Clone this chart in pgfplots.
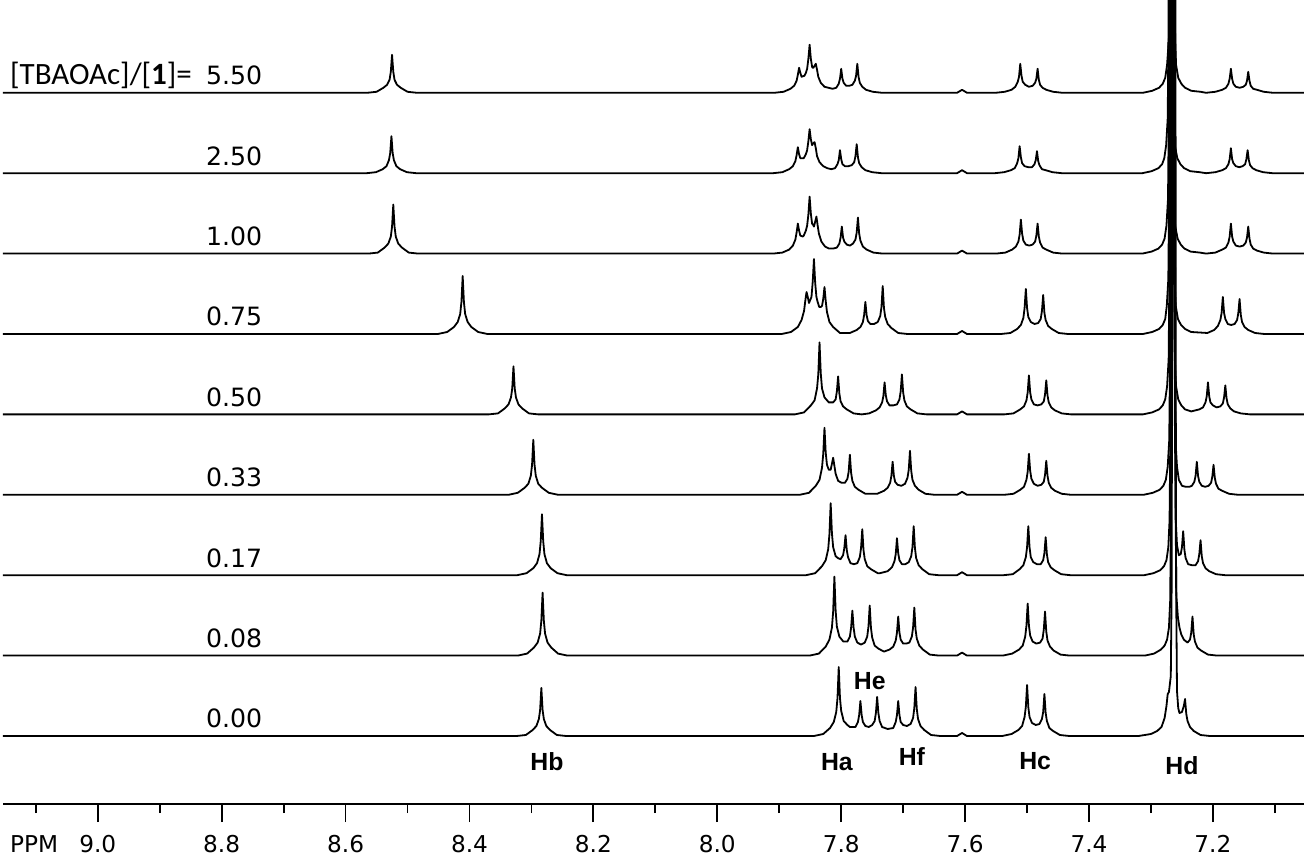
\documentclass[border=0pt]{standalone}
\usepackage{fontspec}
\setmainfont{DejaVu Sans}
\newfontfamily\calibfont{Carlito}
\newfontfamily\arialfont{Liberation Sans}
\usepackage{pgfplots}
\pgfplotsset{compat=1.18}

% one stacked 1H NMR trace; heights in px above its own baseline
\pgfplotsset{
  spec/.style={black, line width=0.9pt, line join=round, mark=none},
  table/trace/.style={header=false, x index=0, y expr=\thisrowno{1}+#1},
}

\begin{document}
\begin{tikzpicture}
\begin{axis}[
  scale only axis,
  width=650.5pt, height=402pt,
  x dir=reverse,
  xmin=7.053, xmax=9.153,
  ymin=-68, ymax=736,
  enlargelimits=false,
  axis x line*=bottom,
  axis y line=none,
  xtick={7.2,7.4,7.6,7.8,8.0,8.2,8.4,8.6,8.8,9.0},
  minor xtick={7.1,7.3,7.5,7.7,7.9,8.1,8.3,8.5,8.7,8.9,9.1},
  tick align=outside,
  major tick length=9pt,
  minor tick length=4.5pt,
  every tick/.style={black, line width=0.9pt},
  axis line style={black, line width=0.9pt},
  xticklabel style={font=\fontsize{11.6}{13}\selectfont, anchor=base, yshift=-15pt,
    /pgf/number format/.cd, fixed, fixed zerofill, precision=1, assume math mode=true},
]

% 0.00
\addplot[spec] table[trace=0] {
9.160 0
8.324 0
8.309 1
8.298 6
8.292 10
8.288 17
8.286 26
8.284 48
8.282 26
8.280 17
8.276 10
8.270 6
8.259 1
8.244 0
7.844 0
7.829 2
7.818 8
7.812 14
7.808 24
7.806 38
7.804 69
7.802 38
7.800 25
7.796 15
7.790 11
7.786 9
7.777 9
7.773 14
7.771 21
7.769 35
7.767 21
7.765 14
7.761 10
7.7555 9
7.750 11
7.746 15
7.744 23
7.742 39
7.740 23
7.738 15
7.734 9
7.725 7
7.716 8
7.712 14
7.710 21
7.708 35
7.706 21
7.704 14
7.700 11
7.694 10
7.688 12
7.684 18
7.682 28
7.680 49
7.678 27
7.676 17
7.672 10
7.666 6
7.655 1
7.640 0
7.613 0
7.605 3
7.597 0
7.540 0
7.525 2
7.514 6
7.508 10
7.504 19
7.502 29
7.500 51
7.498 29
7.496 19
7.492 13
7.486 11
7.480 12
7.476 17
7.474 24
7.472 42
7.470 23
7.468 15
7.464 8
7.458 5
7.447 1
7.432 0
7.320 0
7.300 2
7.290 5
7.283 9
7.278 18
7.275 30
7.273 42
7.271 44
7.2680 60
7.2666 150
7.2659 400
7.2655 900
7.2605 900
7.2601 400
7.2594 150
7.2580 45
7.256 28
7.254 23
7.250 24
7.247 30
7.245 37
7.243 22
7.241 15
7.237 9
7.231 5
7.220 1
7.205 0
7.050 0
};

% 0.08
\addplot[spec] table[trace=80.4] {
9.160 0
8.322 0
8.307 2
8.296 8
8.290 13
8.286 22
8.284 35
8.282 63
8.280 35
8.278 22
8.274 13
8.268 8
8.257 2
8.242 0
7.851 0
7.836 2
7.825 9
7.819 16
7.815 28
7.813 44
7.811 79
7.809 45
7.807 29
7.803 19
7.7965 14
7.790 14
7.786 19
7.784 28
7.782 45
7.780 28
7.778 19
7.774 13
7.768 11
7.762 13
7.758 19
7.756 29
7.754 50
7.752 28
7.750 18
7.746 10
7.740 7
7.731 4
7.722 6
7.716 9
7.712 15
7.710 23
7.708 39
7.706 23
7.704 16
7.700 12
7.695 12
7.690 13
7.686 19
7.684 28
7.682 48
7.680 26
7.678 17
7.674 10
7.668 6
7.657 1
7.642 0
7.613 0
7.605 3
7.597 0
7.539 0
7.524 2
7.513 6
7.507 10
7.503 19
7.501 30
7.499 52
7.497 30
7.495 20
7.491 14
7.485 12
7.479 13
7.475 17
7.473 26
7.471 44
7.469 24
7.467 15
7.463 9
7.457 5
7.446 1
7.431 0
7.310 0
7.295 2
7.284 6
7.278 10
7.274 16
7.271 28
7.2690 55
7.2676 150
7.2669 400
7.2665 900
7.2615 900
7.2611 400
7.2604 150
7.2590 60
7.2565 38
7.254 28
7.251 21
7.247 16
7.241 13
7.237 16
7.235 23
7.233 39
7.231 21
7.229 14
7.225 8
7.219 5
7.208 1
7.193 0
7.050 0
};

% 0.17
\addplot[spec] table[trace=160.8] {
9.160 0
8.323 0
8.308 2
8.297 7
8.291 12
8.287 21
8.285 34
8.283 61
8.281 34
8.279 21
8.275 12
8.269 7
8.258 2
8.243 0
7.857 0
7.842 2
7.831 9
7.825 15
7.821 26
7.819 41
7.817 72
7.815 42
7.813 28
7.809 19
7.805 17
7.801 16
7.797 20
7.795 27
7.793 40
7.791 25
7.789 18
7.785 12
7.7795 11
7.774 12
7.770 18
7.768 27
7.766 46
7.764 25
7.762 16
7.758 9
7.752 6
7.741 2
7.7375 2
7.725 4
7.718 8
7.714 14
7.712 21
7.710 37
7.708 22
7.706 15
7.702 11
7.6965 11
7.691 13
7.687 19
7.685 28
7.683 49
7.681 27
7.679 17
7.675 10
7.669 6
7.658 1
7.643 0
7.613 0
7.605 3
7.597 0
7.538 0
7.523 1
7.512 6
7.506 10
7.502 18
7.500 28
7.498 49
7.496 28
7.494 18
7.490 13
7.484 11
7.478 11
7.474 15
7.472 22
7.470 38
7.468 21
7.466 13
7.462 8
7.456 5
7.445 1
7.430 0
7.311 0
7.296 2
7.285 5
7.279 9
7.275 15
7.272 28
7.2700 55
7.2686 150
7.2679 400
7.2675 900
7.2625 900
7.2621 400
7.2614 150
7.2600 55
7.258 30
7.255 20
7.252 21
7.250 28
7.248 44
7.246 25
7.244 17
7.240 11
7.234 10
7.228 10
7.224 14
7.222 21
7.220 35
7.218 19
7.216 12
7.212 7
7.206 4
7.195 1
7.180 0
7.050 0
};

% 0.33
\addplot[spec] table[trace=241.2] {
9.160 0
8.337 0
8.322 2
8.311 7
8.305 11
8.301 19
8.299 30
8.297 55
8.295 30
8.293 19
8.289 11
8.283 7
8.272 2
8.257 0
7.867 0
7.852 2
7.841 9
7.835 15
7.831 27
7.829 41
7.827 67
7.825 42
7.823 30
7.820 25
7.817 25
7.815 31
7.813 37
7.811 29
7.809 21
7.805 14
7.7995 12
7.794 12
7.790 16
7.788 23
7.786 40
7.784 22
7.782 14
7.778 8
7.772 5
7.761 1
7.751 1
7.742 1
7.731 4
7.725 7
7.721 12
7.719 19
7.717 33
7.715 19
7.713 13
7.709 10
7.703 9
7.697 11
7.693 17
7.691 25
7.689 44
7.687 24
7.685 15
7.681 9
7.675 5
7.664 1
7.649 0
7.613 0
7.605 3
7.597 0
7.537 0
7.522 1
7.511 5
7.505 8
7.501 15
7.499 23
7.497 41
7.495 24
7.493 16
7.489 11
7.483 9
7.477 10
7.473 13
7.471 20
7.469 34
7.467 19
7.465 12
7.461 7
7.455 4
7.444 1
7.429 0
7.312 0
7.297 2
7.286 5
7.280 9
7.276 15
7.273 28
7.2705 55
7.2691 150
7.2684 400
7.2680 900
7.2630 900
7.2626 400
7.2619 150
7.2605 55
7.258 28
7.255 15
7.250 9
7.244 8
7.238 8
7.234 9
7.230 13
7.228 19
7.226 33
7.224 19
7.222 13
7.218 9
7.2125 8
7.207 9
7.203 12
7.201 18
7.199 30
7.197 17
7.195 11
7.191 6
7.185 4
7.174 1
7.159 0
7.050 0
};

% 0.50
\addplot[spec] table[trace=321.6] {
9.160 0
8.369 0
8.354 1
8.343 6
8.337 10
8.333 17
8.331 26
8.329 48
8.327 26
8.325 17
8.321 10
8.315 6
8.304 1
8.289 0
7.875 0
7.860 2
7.849 9
7.843 14
7.839 26
7.837 40
7.835 72
7.833 41
7.831 26
7.827 17
7.820 12
7.813 12
7.809 15
7.807 23
7.805 38
7.803 21
7.801 13
7.797 8
7.791 5
7.780 1
7.767 0
7.755 1
7.744 4
7.738 7
7.734 12
7.732 18
7.730 32
7.728 19
7.726 13
7.722 9
7.716 9
7.710 10
7.706 15
7.704 23
7.702 40
7.700 22
7.698 14
7.694 8
7.688 5
7.677 1
7.662 0
7.613 0
7.605 3
7.597 0
7.537 0
7.522 1
7.511 5
7.505 8
7.501 14
7.499 22
7.497 39
7.495 22
7.493 15
7.489 10
7.483 9
7.477 10
7.473 13
7.471 20
7.469 34
7.467 19
7.465 12
7.461 7
7.455 4
7.444 1
7.429 0
7.313 0
7.298 2
7.287 5
7.281 9
7.277 15
7.274 28
7.2715 55
7.2701 150
7.2694 400
7.2690 900
7.2640 900
7.2636 400
7.2629 150
7.2615 55
7.2595 28
7.256 15
7.251 9
7.245 5
7.235 3
7.222 5
7.216 7
7.212 12
7.210 18
7.208 32
7.206 18
7.204 12
7.200 9
7.194 7
7.188 8
7.184 11
7.182 17
7.180 29
7.178 16
7.176 10
7.172 6
7.166 3
7.155 1
7.140 0
7.050 0
};

% 0.75
\addplot[spec] table[trace=402] {
9.160 0
8.451 0
8.436 2
8.425 7
8.419 12
8.415 20
8.413 32
8.411 58
8.409 32
8.407 20
8.403 12
8.397 7
8.386 2
8.371 0
7.896 0
7.881 2
7.870 7
7.864 14
7.860 23
7.858 33
7.856 42
7.854 37
7.852 31
7.850 34
7.848 37
7.846 52
7.844 75
7.842 51
7.840 37
7.838 32
7.8355 27
7.833 27
7.831 28
7.829 35
7.827 47
7.825 33
7.823 22
7.819 12
7.813 7
7.802 1
7.786 1
7.775 4
7.769 7
7.765 12
7.763 19
7.761 32
7.759 19
7.757 13
7.753 10
7.747 10
7.741 12
7.737 18
7.735 27
7.733 48
7.731 26
7.729 17
7.725 10
7.719 6
7.708 1
7.693 0
7.613 0
7.605 3
7.597 0
7.542 0
7.527 1
7.516 5
7.510 9
7.506 16
7.504 26
7.502 45
7.500 26
7.498 17
7.494 12
7.488 10
7.482 11
7.478 15
7.476 23
7.474 39
7.472 21
7.470 14
7.466 8
7.460 5
7.449 1
7.434 0
7.313 0
7.298 2
7.287 5
7.281 9
7.277 15
7.2745 28
7.2720 55
7.2706 150
7.2699 400
7.2695 900
7.2645 900
7.2641 400
7.2634 150
7.2620 55
7.260 28
7.2565 15
7.2515 9
7.245 5
7.235 2
7.209 1
7.198 4
7.192 8
7.188 14
7.186 21
7.184 37
7.182 21
7.180 15
7.176 10
7.1705 9
7.165 10
7.161 14
7.159 21
7.157 35
7.155 19
7.153 12
7.149 7
7.143 4
7.132 1
7.117 0
7.050 0
};

% 1.00
\addplot[spec] table[trace=482.4] {
9.160 0
8.563 0
8.548 1
8.537 6
8.531 10
8.527 17
8.525 27
8.523 49
8.521 27
8.519 17
8.515 10
8.509 6
8.498 1
8.483 0
7.910 0
7.895 1
7.884 4
7.878 8
7.874 14
7.872 21
7.870 30
7.868 23
7.866 18
7.862 17
7.8605 18
7.857 23
7.855 28
7.853 39
7.851 57
7.849 40
7.847 30
7.8455 29
7.844 27
7.842 32
7.840 37
7.838 28
7.836 20
7.832 12
7.826 7
7.8195 5
7.813 5
7.807 6
7.803 10
7.801 16
7.799 27
7.797 16
7.795 12
7.791 9
7.786 8
7.781 10
7.777 14
7.775 21
7.773 36
7.771 20
7.769 13
7.765 7
7.759 4
7.748 1
7.733 0
7.613 0
7.605 3
7.597 0
7.550 0
7.535 1
7.524 4
7.518 7
7.514 12
7.512 19
7.510 34
7.508 20
7.506 13
7.502 9
7.4965 8
7.491 9
7.487 12
7.485 18
7.483 30
7.481 17
7.479 11
7.475 6
7.469 4
7.458 1
7.443 0
7.314 0
7.299 2
7.288 5
7.282 9
7.278 15
7.275 28
7.2725 55
7.2711 150
7.2704 400
7.2700 900
7.2650 900
7.2646 400
7.2639 150
7.2625 55
7.261 28
7.257 15
7.252 9
7.246 5
7.236 2
7.221 1
7.211 0
7.196 1
7.185 4
7.179 6
7.175 11
7.173 17
7.171 30
7.169 17
7.167 12
7.163 8
7.157 7
7.151 8
7.147 11
7.145 16
7.143 27
7.141 15
7.139 9
7.135 5
7.129 3
7.118 1
7.103 0
7.050 0
};

% 2.50
\addplot[spec] table[trace=562.8] {
9.160 0
8.566 0
8.551 1
8.540 4
8.534 7
8.530 13
8.528 20
8.526 37
8.524 20
8.522 13
8.518 7
8.512 4
8.501 1
8.486 0
7.910 0
7.895 1
7.884 4
7.878 7
7.874 12
7.872 18
7.870 26
7.868 19
7.866 15
7.862 15
7.8605 15
7.857 19
7.855 23
7.853 32
7.851 44
7.849 34
7.847 28
7.845 30
7.843 31
7.841 25
7.839 17
7.835 11
7.829 7
7.8225 5
7.816 4
7.810 5
7.806 9
7.804 13
7.802 23
7.800 14
7.798 9
7.794 7
7.7885 7
7.783 8
7.779 11
7.777 17
7.775 29
7.773 16
7.771 10
7.767 6
7.761 3
7.750 1
7.735 0
7.613 0
7.605 3
7.597 0
7.552 0
7.537 1
7.526 3
7.520 5
7.516 10
7.514 15
7.512 27
7.510 16
7.508 10
7.504 7
7.498 6
7.492 6
7.488 9
7.486 13
7.484 22
7.482 12
7.480 8
7.476 4
7.470 3
7.459 1
7.444 0
7.314 0
7.299 2
7.288 5
7.282 9
7.2785 15
7.2755 28
7.2730 55
7.2716 150
7.2709 400
7.2705 900
7.2655 900
7.2651 400
7.2644 150
7.2630 55
7.2615 28
7.2575 15
7.2525 9
7.2465 5
7.2365 2
7.2215 1
7.211 0
7.196 1
7.185 3
7.179 5
7.175 9
7.173 14
7.171 25
7.169 14
7.167 10
7.163 7
7.1575 6
7.152 7
7.148 9
7.146 14
7.144 23
7.142 13
7.140 8
7.136 5
7.130 3
7.119 1
7.104 0
7.050 0
};

% 5.50
\addplot[spec] table[trace=643.2] {
9.160 0
8.565 0
8.550 1
8.539 5
8.533 8
8.529 13
8.527 21
8.525 38
8.523 21
8.521 13
8.517 8
8.511 5
8.500 1
8.485 0
7.908 0
7.893 1
7.882 4
7.876 7
7.872 12
7.870 18
7.868 25
7.866 20
7.864 16
7.8595 17
7.857 20
7.855 24
7.853 34
7.851 48
7.849 34
7.847 26
7.846 25
7.845 25
7.843 27
7.841 29
7.839 23
7.837 16
7.833 10
7.827 6
7.8205 5
7.814 4
7.808 5
7.804 9
7.802 14
7.800 24
7.798 14
7.796 10
7.792 7
7.787 7
7.782 8
7.778 12
7.776 17
7.774 29
7.772 16
7.770 10
7.766 6
7.760 3
7.749 1
7.734 0
7.613 0
7.605 3
7.597 0
7.551 0
7.536 1
7.525 3
7.519 6
7.515 11
7.513 16
7.511 29
7.509 17
7.507 11
7.503 8
7.497 6
7.491 7
7.487 10
7.485 14
7.483 24
7.481 13
7.479 8
7.475 5
7.469 3
7.458 1
7.443 0
7.313 0
7.298 2
7.287 5
7.281 9
7.277 15
7.274 28
7.2710 55
7.2696 150
7.2689 400
7.2685 900
7.2635 900
7.2631 400
7.2624 150
7.2610 55
7.2595 28
7.256 15
7.251 9
7.245 5
7.235 2
7.220 1
7.211 0
7.196 1
7.185 3
7.179 5
7.175 9
7.173 14
7.171 24
7.169 14
7.167 9
7.163 6
7.157 5
7.151 6
7.147 8
7.145 12
7.143 21
7.141 12
7.139 7
7.135 4
7.129 3
7.118 1
7.103 0
7.050 0
};

% anchors for the text, drawn after the axis so nothing is clipped
\coordinate (l0) at (axis cs:8.734,8);
\coordinate (l1) at (axis cs:8.734,88.4);
\coordinate (l2) at (axis cs:8.734,168.8);
\coordinate (l3) at (axis cs:8.734,249.2);
\coordinate (l4) at (axis cs:8.734,329.6);
\coordinate (l5) at (axis cs:8.734,410);
\coordinate (l6) at (axis cs:8.734,490.4);
\coordinate (l7) at (axis cs:8.734,570.8);
\coordinate (l8) at (axis cs:8.734,651.2);
\coordinate (lt) at (axis cs:9.142,651.2);
\coordinate (ppm) at (axis cs:9.142,-116);
\coordinate (hb) at (axis cs:8.275,-35);
\coordinate (ha) at (axis cs:7.807,-35);
\coordinate (he) at (axis cs:7.754,46);
\coordinate (hf) at (axis cs:7.686,-30);
\coordinate (hc) at (axis cs:7.487,-34);
\coordinate (hd) at (axis cs:7.250,-39);
\coordinate (bbl) at (axis cs:9.153,-68);
\coordinate (btr) at (axis cs:7.053,736);
\end{axis}

\begin{scope}[every node/.style={inner sep=0pt}]
  \begin{scope}[every node/.append style={anchor=base east, font=\fontsize{12.6}{14}\selectfont}]
    \node at (l0) {0.00};
    \node at (l1) {0.08};
    \node at (l2) {0.17};
    \node at (l3) {0.33};
    \node at (l4) {0.50};
    \node at (l5) {0.75};
    \node at (l6) {1.00};
    \node at (l7) {2.50};
    \node at (l8) {5.50};
  \end{scope}
  \node[anchor=base west, font=\calibfont\fontsize{15.5}{17}\selectfont] at (lt) {[TBAOAc]/[\textbf{1}]=};
  \node[anchor=base west, font=\fontsize{11.6}{13}\selectfont] at (ppm) {PPM};
  \begin{scope}[every node/.append style={anchor=base, font=\arialfont\bfseries\fontsize{12.4}{14}\selectfont}]
    \node at (hb) {Hb};
    \node at (ha) {Ha};
    \node at (he) {He};
    \node at (hf) {Hf};
    \node at (hc) {Hc};
    \node at (hd) {Hd};
  \end{scope}
\end{scope}

\pgfresetboundingbox
\path (bbl) ++(-1.5pt,-25.5pt) rectangle (btr);
\end{tikzpicture}
\end{document}
